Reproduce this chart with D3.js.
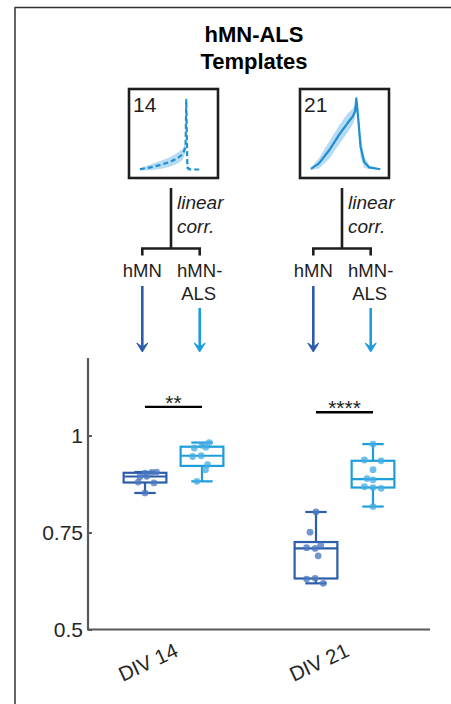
<!DOCTYPE html>
<html>
<head>
<meta charset="utf-8">
<script src="https://cdn.jsdelivr.net/npm/d3@7"></script>
<style>
  html, body { margin: 0; padding: 0; background: #fff; }
  svg { display: block; font-family: "Liberation Sans", Arial, Helvetica, sans-serif; }
</style>
</head>
<body>
<svg id="fig" width="451" height="704"></svg>
<script>
// ---- data ----
const days = ["DIV 14", "DIV 21"];
const lines = ["hMN", "hMN-ALS"];
const templateDays = ["14", "21"];

// correlation of each recording with the hMN-ALS template
const hmnDiv14 = [0.852, 0.878, 0.880, 0.894, 0.895, 0.903, 0.905, 0.906];
const alsDiv14 = [0.882, 0.912, 0.925, 0.946, 0.948, 0.968, 0.970, 0.975, 0.982];
const hmnDiv21 = [0.619, 0.630, 0.632, 0.690, 0.709, 0.711, 0.717, 0.751, 0.803];
const alsDiv21 = [0.817, 0.864, 0.866, 0.868, 0.886, 0.889, 0.912, 0.935, 0.937, 0.978];

// horizontal scatter of each dot, in box widths
const hmnDiv14Jitter = [0, 0.21, -0.16, -0.12, 0.04, 0, 0.16, 0.27];
const alsDiv14Jitter = [-0.12, 0.08, 0.13, -0.22, -0.02, -0.18, 0.09, 0, 0.17];
const hmnDiv21Jitter = [0.17, -0.22, -0.02, 0.05, -0.02, -0.22, 0.11, -0.14, 0];
const alsDiv21Jitter = [0, 0.19, 0, -0.2, 0, -0.14, 0, 0.19, -0.2, 0];

// significance bars
const sigLevels = [1.074, 1.06];
const sigLabels = ["**", "****"];

const yTicks = [0.5, 0.75, 1];
const yTickLabels = ["0.5", "0.75", "1"];

// template shapes (normalised time, normalised amplitude, spread)
const tmpl14X    = [0.04, 0.18, 0.32, 0.45, 0.56, 0.63, 0.665, 0.675, 0.69, 0.73, 0.89];
const tmpl14Mean = [0.01, 0.035, 0.07, 0.11, 0.165, 0.22, 0.32, 0.96, 0.03, 0.007, 0.007];
const tmpl14Sd   = [0.015, 0.04, 0.055, 0.065, 0.075, 0.075, 0.07, 0.0, 0.05, 0.0, 0.0];
const tmpl21X    = [0.04, 0.15, 0.29, 0.425, 0.54, 0.61, 0.645, 0.662, 0.69, 0.72, 0.77, 0.84, 0.99];
const tmpl21Mean = [0.015, 0.09, 0.27, 0.48, 0.64, 0.73, 0.80, 0.98, 0.68, 0.32, 0.11, 0.035, 0.01];
const tmpl21Sd   = [0.015, 0.07, 0.12, 0.13, 0.13, 0.11, 0.09, 0.02, 0.15, 0.15, 0.08, 0.025, 0.0];

// ---- assembled tables ----
const groups = [
  { day: 0, line: 0, values: hmnDiv14, jitter: hmnDiv14Jitter },
  { day: 0, line: 1, values: alsDiv14, jitter: alsDiv14Jitter },
  { day: 1, line: 0, values: hmnDiv21, jitter: hmnDiv21Jitter },
  { day: 1, line: 1, values: alsDiv21, jitter: alsDiv21Jitter }
];
const templates = [
  { x: tmpl14X, m: tmpl14Mean, s: tmpl14Sd, dashed: true },
  { x: tmpl21X, m: tmpl21Mean, s: tmpl21Sd, dashed: false }
];

// ---- styles ----
const lineColor = ["#2c5dab", "#1c9ddc"];
const dotColor = ["#4c79c2", "#45ade3"];
const ink = "#1e1e1e";
const axisColor = "#595959";
const tmplColor = "#1f8fd2";
const bandColor = "#a9d5f0";

const svg = d3.select("#fig");
svg.append("rect").attr("width", 451).attr("height", 704).attr("fill", "#fff");

// panel frame
svg.append("rect")
  .attr("x", 15).attr("y", 7.5).attr("width", 520).attr("height", 800)
  .attr("fill", "none").attr("stroke", "#333").attr("stroke-width", 1.5);

// ---- scales ----
const x = d3.scaleLinear().domain([0.5, 2.5]).range([88, 430]);
const y = d3.scaleLinear().domain([0.5, 1.2]).range([629.5, 358]);
const offset = 0.1667;
const boxW = x(0.25) - x(0);
const cx = g => x(g.day + 1) + (g.line === 0 ? -1 : 1) * (x(offset) - x(0));

// MATLAB-style percentile
function prctile(sorted, p) {
  const n = sorted.length;
  const pos = n * p + 0.5;
  if (pos <= 1) return sorted[0];
  if (pos >= n) return sorted[n - 1];
  const i = Math.floor(pos), f = pos - i;
  return sorted[i - 1] + f * (sorted[i] - sorted[i - 1]);
}

// ---- title ----
const title = svg.append("text").attr("x", 254).attr("text-anchor", "middle")
  .attr("font-weight", "bold").attr("font-size", 22).attr("fill", "#000");
title.append("tspan").attr("x", 254).attr("y", 42).text("hMN-ALS");
title.append("tspan").attr("x", 254).attr("y", 69).text("Templates");

// ---- template insets ----
templates.forEach((t, i) => {
  const gx = x(i + 1);
  const bx = gx - 44.5, by = 89, bs = 89;
  const tx = d3.scaleLinear().domain([0, 1]).range([bx + 8, bx + 81]);
  const ty = d3.scaleLinear().domain([0, 1]).range([by + 81, by + 8]);
  const pts = t.x.map((v, k) => ({ x: v, m: t.m[k], s: t.s[k] }));
  const band = d3.area().x(d => tx(d.x)).y0(d => ty(d.m - d.s)).y1(d => ty(d.m + d.s));
  const mean = d3.line().x(d => tx(d.x)).y(d => ty(d.m));
  svg.append("path").attr("d", band(pts)).attr("fill", bandColor).attr("opacity", 0.85);
  svg.append("path").attr("d", mean(pts)).attr("fill", "none")
    .attr("stroke", tmplColor).attr("stroke-width", 2.2)
    .attr("stroke-linejoin", "round")
    .attr("stroke-dasharray", t.dashed ? "5,3" : null);
  svg.append("rect").attr("x", bx).attr("y", by).attr("width", bs).attr("height", bs)
    .attr("fill", "none").attr("stroke", ink).attr("stroke-width", 2.6);
  svg.append("text").attr("x", bx + 4).attr("y", by + 22.5)
    .attr("font-size", 21).attr("fill", ink).text(templateDays[i]);

  // correlation tree
  const tc = gx - 2.5, half = 28.7;
  const tree = svg.append("g").attr("stroke", ink).attr("stroke-width", 2.6).attr("fill", "none");
  tree.append("line").attr("x1", tc).attr("x2", tc).attr("y1", 188).attr("y2", 248.5);
  tree.append("path").attr("d", `M${tc - half},255.5V248.5H${tc + half}V255.5`);
  const it = svg.append("text").attr("font-size", 19).attr("font-style", "italic").attr("fill", ink);
  it.append("tspan").attr("x", tc + 6).attr("y", 209).text("linear");
  it.append("tspan").attr("x", tc + 6).attr("y", 233).text("corr.");
  svg.append("text").attr("x", tc - half).attr("y", 277).attr("text-anchor", "middle")
    .attr("font-size", 18.5).attr("fill", ink).text(lines[0]);
  const al = svg.append("text").attr("text-anchor", "middle").attr("font-size", 18.5).attr("fill", ink);
  al.append("tspan").attr("x", tc + half).attr("y", 277).text("hMN-");
  al.append("tspan").attr("x", tc + half - 1).attr("y", 300).text("ALS");

  // arrows down to the boxes
  [[tc - half, 286, lineColor[0]], [tc + half, 308, lineColor[1]]].forEach(([ax, y1, c]) => {
    const y2 = 352;
    svg.append("line").attr("x1", ax).attr("x2", ax).attr("y1", y1).attr("y2", y2 - 4)
      .attr("stroke", c).attr("stroke-width", 2.6);
    svg.append("path")
      .attr("d", `M${ax - 5.5},${y2 - 9}L${ax},${y2}L${ax + 5.5},${y2 - 9}L${ax},${y2 - 5}Z`)
      .attr("fill", c).attr("stroke", c).attr("stroke-width", 1).attr("stroke-linejoin", "round");
  });
});

// ---- axes ----
const yAxis = d3.axisRight(y).tickValues(yTicks).tickSize(4).tickFormat((d, i) => yTickLabels[i]);
const yg = svg.append("g").attr("transform", `translate(${x(0.5)},0)`).call(yAxis);
yg.select(".domain").remove();
yg.selectAll(".tick line").attr("stroke", axisColor).attr("stroke-width", 2);
yg.selectAll(".tick text").attr("x", -5).attr("dy", "0.35em").attr("text-anchor", "end")
  .attr("font-size", 21).attr("fill", "#262626")
  .attr("font-family", "\"Liberation Sans\", Arial, sans-serif");
svg.append("path")
  .attr("d", `M${x(0.5)},${y(1.2)}V${y(0.5)}H${x(2.5)}`)
  .attr("fill", "none").attr("stroke", axisColor).attr("stroke-width", 2.2);

const xAxis = d3.axisBottom(x).tickValues([1, 2]).tickSize(0).tickFormat((d, i) => days[i]);
const xg = svg.append("g").attr("transform", `translate(0,${y(0.5)})`).call(xAxis);
xg.select(".domain").remove();
xg.selectAll(".tick text")
  .attr("font-size", 20.5).attr("fill", "#262626").attr("dy", null).attr("y", null)
  .attr("font-family", "\"Liberation Sans\", Arial, sans-serif")
  .attr("text-anchor", "end")
  .attr("transform", "translate(5.5,26) rotate(-25)");

// ---- boxes ----
groups.forEach(g => {
  const s = g.values.slice().sort(d3.ascending);
  const q1 = prctile(s, 0.25), med = prctile(s, 0.5), q3 = prctile(s, 0.75);
  const iqr = q3 - q1;
  const lo = d3.min(s.filter(v => v >= q1 - 1.5 * iqr));
  const hi = d3.max(s.filter(v => v <= q3 + 1.5 * iqr));
  const c = cx(g), col = lineColor[g.line];
  const bg = svg.append("g").attr("stroke", col).attr("stroke-width", 2.2).attr("fill", "none");
  bg.append("line").attr("x1", c).attr("x2", c).attr("y1", y(q3)).attr("y2", y(hi));
  bg.append("line").attr("x1", c).attr("x2", c).attr("y1", y(q1)).attr("y2", y(lo));
  bg.append("line").attr("x1", c - boxW / 4).attr("x2", c + boxW / 4).attr("y1", y(hi)).attr("y2", y(hi));
  bg.append("line").attr("x1", c - boxW / 4).attr("x2", c + boxW / 4).attr("y1", y(lo)).attr("y2", y(lo));
  bg.append("rect").attr("x", c - boxW / 2).attr("y", y(q3)).attr("width", boxW).attr("height", y(q1) - y(q3));
  bg.append("line").attr("x1", c - boxW / 2).attr("x2", c + boxW / 2).attr("y1", y(med)).attr("y2", y(med));

  svg.append("g").selectAll("circle").data(g.values).join("circle")
    .attr("cx", (d, i) => c + g.jitter[i] * boxW)
    .attr("cy", d => y(d))
    .attr("r", 3.4)
    .attr("fill", dotColor[g.line]).attr("fill-opacity", 0.78);
});

// ---- significance bars ----
days.forEach((d, i) => {
  const x1 = x(i + 1 - offset), x2 = x(i + 1 + offset), yy = y(sigLevels[i]);
  svg.append("line").attr("x1", x1).attr("x2", x2).attr("y1", yy).attr("y2", yy)
    .attr("stroke", "#000").attr("stroke-width", 2.4);
  svg.append("text").attr("x", (x1 + x2) / 2).attr("y", yy + 3)
    .attr("text-anchor", "middle").attr("font-size", 21).attr("fill", ink).text(sigLabels[i]);
});
</script>
</body>
</html>
